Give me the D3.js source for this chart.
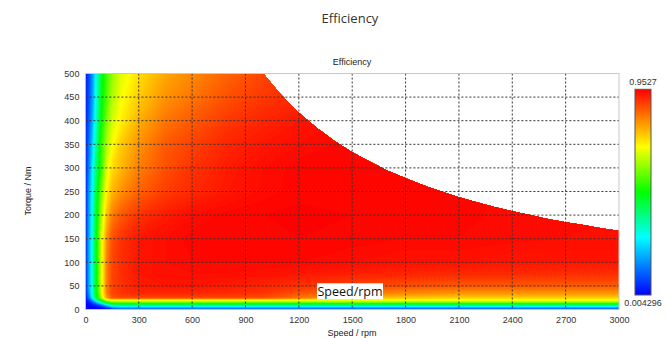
<!DOCTYPE html>
<html>
<head>
<meta charset="utf-8">
<script src="https://cdn.jsdelivr.net/npm/d3@7"></script>
<style>
body { margin: 0; background: #fff; }
text { font-family: "Liberation Sans", Arial, sans-serif; }
</style>
</head>
<body>
<div class="plot1"></div>
<script>
// grid of the efficiency map (speed columns, torque rows from 0 Nm upward)
var speeds = [0, 20, 40, 60, 90, 120, 150, 200, 300, 450, 600, 800, 1000, 1200, 1500, 1800, 2100, 2400, 2700, 3000];
var torques = [0, 4, 8, 12, 16, 20, 25, 35, 50, 75, 100, 150, 200, 250, 300, 350, 400, 450, 500];

var efficiency = [
  [0.005,0.005,0.006,0.008,0.012,0.02,0.04,0.06,0.06,0.06,0.06,0.06,0.06,0.06,0.06,0.06,0.06,0.06,0.06,0.06],
  [0.006,0.006,0.008,0.01,0.02,0.06,0.14,0.17,0.17,0.17,0.17,0.17,0.17,0.17,0.16,0.16,0.16,0.16,0.16,0.16],
  [0.008,0.01,0.02,0.04,0.08,0.18,0.28,0.3,0.3,0.3,0.3,0.3,0.3,0.3,0.3,0.3,0.3,0.3,0.3,0.3],
  [0.01,0.02,0.05,0.1,0.2,0.34,0.44,0.46,0.46,0.46,0.46,0.46,0.46,0.46,0.46,0.46,0.46,0.46,0.46,0.46],
  [0.012,0.04,0.1,0.2,0.34,0.5,0.57,0.58,0.58,0.58,0.58,0.58,0.58,0.58,0.59,0.59,0.6,0.6,0.6,0.6],
  [0.015,0.07,0.18,0.32,0.5,0.64,0.68,0.68,0.68,0.68,0.68,0.68,0.68,0.68,0.68,0.68,0.68,0.68,0.68,0.68],
  [0.02,0.12,0.27,0.43,0.63,0.79,0.86,0.88,0.88,0.88,0.88,0.88,0.87,0.83,0.77,0.75,0.74,0.74,0.74,0.74],
  [0.03,0.16,0.3,0.46,0.66,0.82,0.88,0.9,0.915,0.915,0.915,0.91,0.9,0.87,0.83,0.81,0.8,0.8,0.8,0.8],
  [0.03,0.18,0.3,0.46,0.66,0.82,0.88,0.9,0.925,0.93,0.93,0.925,0.915,0.9,0.88,0.87,0.86,0.86,0.86,0.86],
  [0.03,0.18,0.3,0.46,0.66,0.82,0.88,0.905,0.93,0.94,0.94,0.94,0.935,0.93,0.92,0.915,0.91,0.91,0.905,0.905],
  [0.03,0.18,0.3,0.46,0.66,0.82,0.88,0.905,0.93,0.94,0.945,0.945,0.945,0.945,0.94,0.935,0.935,0.93,0.93,0.93],
  [0.03,0.18,0.3,0.46,0.66,0.8,0.87,0.9,0.93,0.94,0.948,0.95,0.95,0.95,0.948,0.945,0.945,0.942,0.94,0.94],
  [0.03,0.17,0.29,0.44,0.62,0.75,0.82,0.86,0.9,0.925,0.94,0.948,0.95,0.952,0.95,0.948,0.946,0.944,0.942,0.94],
  [0.03,0.16,0.28,0.42,0.58,0.7,0.76,0.8,0.85,0.89,0.91,0.93,0.942,0.948,0.95,0.948,0.946,0.944,0.942,0.94],
  [0.03,0.14,0.26,0.38,0.52,0.66,0.72,0.76,0.82,0.87,0.9,0.925,0.94,0.948,0.95,0.948,0.946,0.944,0.942,0.94],
  [0.03,0.12,0.22,0.35,0.52,0.62,0.68,0.74,0.8,0.86,0.885,0.915,0.93,0.94,0.948,0.948,0.946,0.944,0.942,0.94],
  [0.03,0.1,0.19,0.31,0.48,0.58,0.65,0.7,0.77,0.83,0.86,0.895,0.915,0.93,0.945,0.948,0.946,0.944,0.942,0.94],
  [0.03,0.09,0.17,0.29,0.46,0.55,0.62,0.68,0.74,0.8,0.83,0.87,0.895,0.91,0.935,0.945,0.946,0.944,0.942,0.94],
  [0.03,0.08,0.16,0.28,0.45,0.53,0.6,0.66,0.72,0.78,0.81,0.85,0.88,0.9,0.93,0.94,0.945,0.944,0.942,0.94]
];

// maximum torque envelope
var envSpeed = [0, 1000, 1100, 1200, 1300, 1400, 1500, 1600, 1700, 1800, 1900, 2000, 2100, 2200, 2300, 2400, 2500, 2600, 2700, 2800, 2900, 3000];
var envTorque = [500, 500, 455, 417, 385, 357, 333, 313, 294, 278, 263, 250, 238, 227, 217, 208, 200, 192, 185, 179, 172, 167];

var speedTicks = [0, 300, 600, 900, 1200, 1500, 1800, 2100, 2400, 2700, 3000];
var torqueTicks = [0, 50, 100, 150, 200, 250, 300, 350, 400, 450, 500];

var effMin = 0.004296, effMax = 0.9527;
var colorStops = [0, 0.28, 0.5, 0.72, 1];
var colorList = ["#0000ff", "#00ffff", "#00ff00", "#ffff00", "#ff0000"];

var W = 667, H = 338;
var pLeft = 85.4, pRight = 619, pTop = 73.5, pBottom = 309.5;

var svg = d3.select(".plot1").append("svg")
  .attr("width", W)
  .attr("height", H)
  .style("display", "block");

var x = d3.scaleLinear().domain([0, 3000]).range([pLeft, pRight]);
var y = d3.scaleLinear().domain([0, 500]).range([pBottom, pTop]);

var color = d3.scaleLinear()
  .domain(colorStops.map(function(f) { return effMin + f * (effMax - effMin); }))
  .range(colorList)
  .clamp(true);

// titles
svg.append("text")
  .attr("x", 350).attr("y", 22.5)
  .attr("text-anchor", "middle")
  .style("font-family", "'Open Sans', sans-serif")
  .style("font-size", "13px")
  .style("fill", "#333")
  .text("Efficiency");

svg.append("text")
  .attr("x", 352).attr("y", 65)
  .attr("text-anchor", "middle")
  .style("font-size", "9px")
  .style("fill", "#222")
  .text("Efficiency");

// clip to the torque envelope
var envPts = envSpeed.map(function(s, i) { return [s, envTorque[i]]; });
var envArea = d3.area()
  .x(function(d) { return x(d[0]); })
  .y0(y(0))
  .y1(function(d) { return y(d[1]); });

svg.append("clipPath").attr("id", "env")
  .append("path")
  .attr("d", envArea(envPts));

// contour bands on the (non uniform) grid
var nx = speeds.length, ny = torques.length;
var flat = [];
efficiency.forEach(function(row) { row.forEach(function(v) { flat.push(v); }); });

var idxSpeed = d3.scaleLinear().domain(d3.range(nx)).range(speeds).clamp(true);
var idxTorque = d3.scaleLinear().domain(d3.range(ny)).range(torques).clamp(true);

var thresholds = d3.range(0, 0.96, 0.005);
var bands = d3.contours().size([nx, ny]).thresholds(thresholds)(flat);

var proj = d3.geoTransform({
  point: function(px, py) {
    this.stream.point(x(idxSpeed(px - 0.5)), y(idxTorque(py - 0.5)));
  }
});
var path = d3.geoPath(proj);

svg.append("g")
  .attr("clip-path", "url(#env)")
  .selectAll("path")
  .data(bands)
  .enter()
  .append("path")
  .attr("d", path)
  .style("fill", function(d) { return color(d.value + 0.0025); })
  .style("stroke", "none");

// dashed grid
var grid = svg.append("g");
grid.selectAll("line.v")
  .data(speedTicks.slice(1, -1))
  .enter().append("line")
  .attr("x1", function(d) { return x(d); })
  .attr("x2", function(d) { return x(d); })
  .attr("y1", pTop).attr("y2", pBottom)
  .style("stroke", "#333")
  .style("stroke-width", 1)
  .style("stroke-dasharray", "2,2");

grid.selectAll("line.h")
  .data(torqueTicks.slice(1, -1))
  .enter().append("line")
  .attr("x1", pLeft).attr("x2", pRight)
  .attr("y1", function(d) { return y(d); })
  .attr("y2", function(d) { return y(d); })
  .style("stroke", "#333")
  .style("stroke-width", 1)
  .style("stroke-dasharray", "2,2");

svg.append("rect")
  .attr("x", pLeft).attr("y", pTop)
  .attr("width", pRight - pLeft).attr("height", pBottom - pTop)
  .style("fill", "none")
  .style("stroke", "#c8c8c8");

// axes
var xAxis = svg.append("g")
  .attr("transform", "translate(0," + (pBottom + 4) + ")")
  .call(d3.axisBottom(x).tickValues(speedTicks).tickFormat(d3.format("d")).tickSize(0).tickPadding(3));
var yAxis = svg.append("g")
  .attr("transform", "translate(" + (pLeft - 4) + ",0)")
  .call(d3.axisLeft(y).tickValues(torqueTicks).tickFormat(d3.format("d")).tickSize(0).tickPadding(2));
[xAxis, yAxis].forEach(function(a) {
  a.select(".domain").remove();
  a.selectAll("text")
    .style("font-family", "'Liberation Sans', Arial, sans-serif")
    .style("font-size", "9px")
    .style("fill", "#333");
});

svg.append("text")
  .attr("x", 352).attr("y", 336)
  .attr("text-anchor", "middle")
  .style("font-size", "9px")
  .style("fill", "#222")
  .text("Speed / rpm");

svg.append("text")
  .attr("transform", "translate(31,191) rotate(-90)")
  .attr("text-anchor", "middle")
  .style("font-size", "9px")
  .style("fill", "#222")
  .text("Torque / Nm");

// colour bar
var cbX = 635, cbW = 16, cbTop = 89.3, cbBottom = 295;
var grad = svg.append("defs").append("linearGradient")
  .attr("id", "cbar")
  .attr("x1", 0).attr("y1", 1).attr("x2", 0).attr("y2", 0);
grad.selectAll("stop")
  .data(colorStops)
  .enter().append("stop")
  .attr("offset", function(d) { return d; })
  .attr("stop-color", function(d, i) { return colorList[i]; });

svg.append("rect")
  .attr("x", cbX).attr("y", cbTop)
  .attr("width", cbW).attr("height", cbBottom - cbTop)
  .style("fill", "url(#cbar)")
  .style("stroke", "#555")
  .style("stroke-width", 1);

svg.append("text")
  .attr("x", cbX + cbW / 2).attr("y", 85)
  .attr("text-anchor", "middle")
  .style("font-size", "9px")
  .style("fill", "#333")
  .text(effMax);

svg.append("text")
  .attr("x", cbX + cbW / 2).attr("y", 305.5)
  .attr("text-anchor", "middle")
  .style("font-size", "9px")
  .style("fill", "#333")
  .text(effMin);

// floating label
svg.append("rect")
  .attr("x", 317).attr("y", 283.3)
  .attr("width", 66).attr("height", 16)
  .style("fill", "#fff");
svg.append("text")
  .attr("x", 350).attr("y", 295.5)
  .attr("text-anchor", "middle")
  .style("font-family", "'Open Sans', sans-serif")
  .style("font-size", "12.5px")
  .style("fill", "#111")
  .text("Speed/rpm");
</script>
</body>
</html>
